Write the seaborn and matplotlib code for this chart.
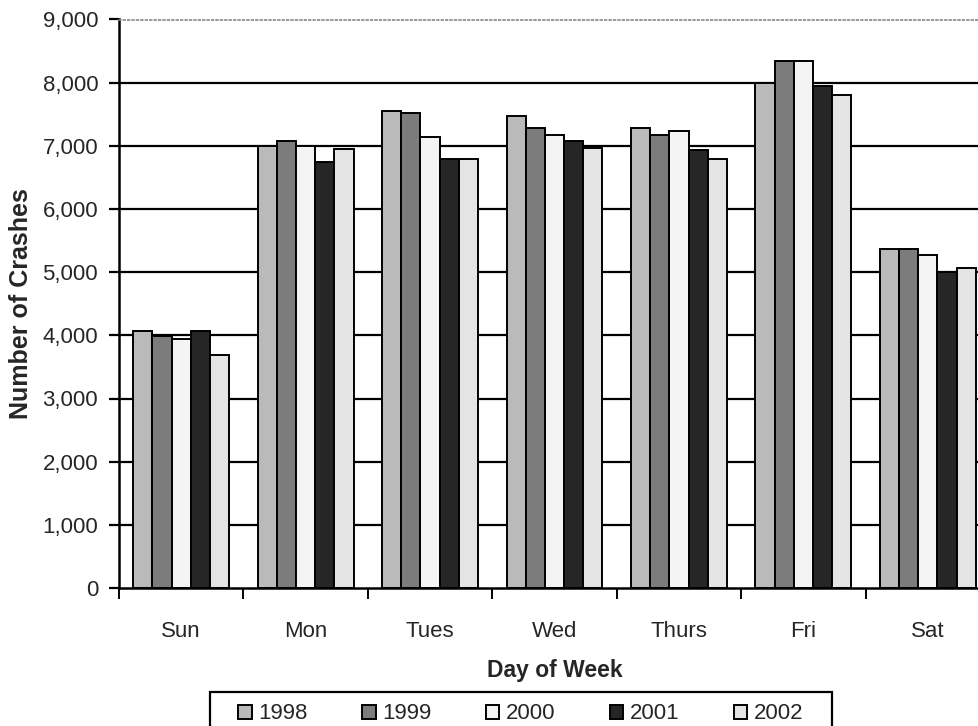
import matplotlib
matplotlib.use("Agg")
import matplotlib.pyplot as plt
from matplotlib.patches import Rectangle
import seaborn as sns
import pandas as pd
import numpy as np

days = ["Sun", "Mon", "Tues", "Wed", "Thurs", "Fri", "Sat"]
years = ["1998", "1999", "2000", "2001", "2002"]
crashes_1998 = [4075, 6995, 7548, 7469, 7279, 7995, 5371]
crashes_1999 = [3995, 7073, 7512, 7279, 7174, 8338, 5371]
crashes_2000 = [3935, 6995, 7136, 7168, 7242, 8338, 5265]
crashes_2001 = [4075, 6746, 6799, 7073, 6941, 7941, 4995]
crashes_2002 = [3690, 6957, 6788, 6973, 6799, 7799, 5063]
year_colors = ["#bababa", "#7c7c7c", "#f4f4f4", "#262626", "#e4e4e4"]

series = [crashes_1998, crashes_1999, crashes_2000, crashes_2001, crashes_2002]
df = pd.DataFrame({
    "Day": np.tile(days, len(years)),
    "Year": np.repeat(years, len(days)),
    "Crashes": np.concatenate(series),
})

sns.set_theme(style="white")
plt.rcParams["font.family"] = ["Liberation Sans", "DejaVu Sans"]

fig = plt.figure(figsize=(9.79, 7.26), dpi=100)
W, H = 979, 726
ax_left, ax_right, ax_top, ax_bottom = 119, 990, 19.5, 588
ax = fig.add_axes([ax_left / W, 1 - ax_bottom / H, (ax_right - ax_left) / W,
                   (ax_bottom - ax_top) / H])

ax.set_axisbelow(True)
for v in range(1000, 9000, 1000):
    ax.axhline(v, color="black", lw=1.6, zorder=0)

sns.barplot(data=df, x="Day", y="Crashes", hue="Year", order=days,
            hue_order=years, palette=year_colors, width=0.77,
            edgecolor="black", linewidth=1.4, ax=ax, legend=True, zorder=2)

ax.set_xlim(-0.5, 6.5)
ax.set_ylim(0, 9000)
ax.set_yticks(range(0, 9001, 1000))
ax.set_yticklabels([f"{v:,}" for v in range(0, 9001, 1000)], fontsize=16)
ax.tick_params(axis="y", which="major", direction="out", length=7, width=1.6,
               color="black", pad=8, left=True)

ax.set_xticks(range(len(days)))
ax.set_xticklabels(days, fontsize=16)
ax.tick_params(axis="x", which="major", length=0, pad=24)
ax.set_xticks(np.arange(-0.5, 7.0, 1.0), minor=True)
ax.tick_params(axis="x", which="minor", direction="out", length=8, width=1.4,
               color="black", bottom=True)

for s in ["left", "bottom"]:
    ax.spines[s].set_color("black")
    ax.spines[s].set_linewidth(1.8)
ax.spines["top"].set_color("#888888")
ax.spines["top"].set_linewidth(1.2)
ax.spines["top"].set_linestyle(":")
ax.spines["right"].set_visible(False)

ax.set_xlabel("Day of Week", fontsize=16.5, fontweight="bold", labelpad=12)
ax.set_ylabel("Number of Crashes", fontsize=18, fontweight="bold")
ax.yaxis.set_label_coords((33 - ax_left) / (ax_right - ax_left), 0.5)

# legend box (extends past the bottom edge, as in the reference)
box = Rectangle((210 / W, 1 - 745 / H), (832 - 210) / W, (745 - 692) / H,
                transform=fig.transFigure, facecolor="white",
                edgecolor="black", linewidth=1.6, zorder=1)
fig.patches.append(box)

handles, labels = ax.get_legend_handles_labels()
ax.get_legend().remove()
leg = fig.legend(handles, labels, loc="upper center",
                 bbox_to_anchor=(521 / W, 1 - 699 / H), ncol=5, fontsize=16,
                 frameon=False,
                 handlelength=0.6, handleheight=0.6, handletextpad=0.3,
                 columnspacing=2.45, borderpad=0.2, borderaxespad=0)
leg.set_zorder(3)

fig.savefig("out.png", dpi=100, facecolor="white")
